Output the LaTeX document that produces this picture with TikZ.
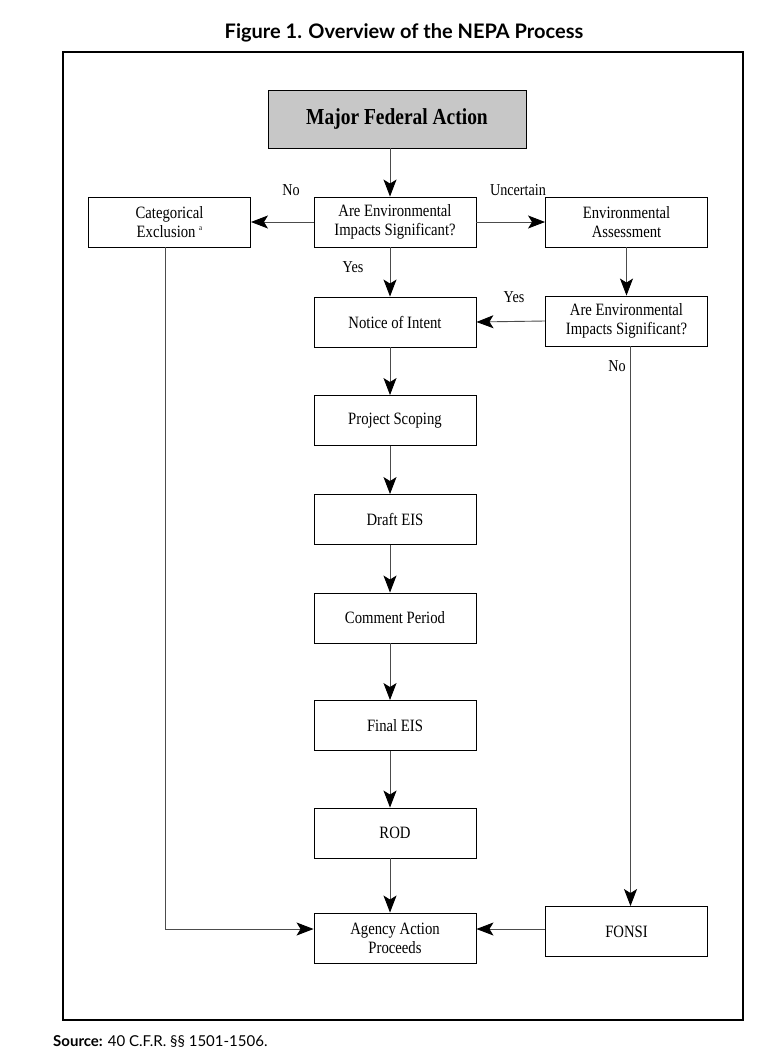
\documentclass[tikz,border=0pt]{standalone}
\usepackage{fontspec}
\setmainfont{Liberation Serif}
\newfontfamily\boxfont[FakeStretch=0.85]{Liberation Serif}
\newfontfamily\titlefont{Lato}
\usetikzlibrary{arrows.meta}
\begin{document}
\begin{tikzpicture}[x=1pt,y=-1pt,
  box/.style={draw=black,line width=0.9pt,minimum width=162pt,minimum height=50pt,inner sep=2pt,align=center,font=\boxfont\fontsize{17.3}{19}\selectfont},
  arr/.style={draw=black!70,line width=0.9pt,-{Stealth[length=17pt,width=13pt,inset=4pt,fill=black,color=black]}},
  lbl/.style={font=\boxfont\fontsize{16.7}{18}\selectfont,inner sep=0pt}]
\useasboundingbox (0,0) rectangle (766,1054);
\fill[white] (0,0) rectangle (766,1054);
\node[font=\titlefont\bfseries\fontsize{20}{22}\selectfont,inner sep=0pt] (title) at (404,33) {Figure 1. Overview of the NEPA Process};
\draw[line width=2pt] (63,52) rectangle (743,1020);
\node[anchor=west,inner sep=0pt,font=\titlefont\fontsize{15}{17}\selectfont] (src) at (53,1041) {\textbf{Source:} 40 C.F.R. §§ 1501-1506.};

\node[box,fill=black!22,minimum width=258pt,minimum height=58pt,font=\boxfont\bfseries\fontsize{22.9}{24}\selectfont] (major) at (397,119) {Major Federal Action};
\node[box] (cat) at (169.5,222) {Categorical\\Exclusion \raisebox{0.4em}{\fontsize{8}{9}\selectfont a}};
\node[box] (q1) at (395,222) {Are Environmental\\Impacts Significant?};
\node[box] (ea) at (626.5,222) {Environmental\\Assessment};
\node[box] (noi) at (395,322) {Notice of Intent};
\node[box] (q2) at (626.5,321) {Are Environmental\\Impacts Significant?};
\node[box] (scope) at (395,420.5) {Project Scoping};
\node[box] (deis) at (395,519.5) {Draft EIS};
\node[box] (comm) at (395,618) {Comment Period};
\node[box] (feis) at (395,725.5) {Final EIS};
\node[box] (rod) at (395,833) {ROD};
\node[box] (agency) at (395,938) {Agency Action\\Proceeds};
\node[box] (fonsi) at (626.5,931.5) {FONSI};

\node[lbl] (lno) at (291,190) {No};
\node[lbl] (lunc) at (518,190) {Uncertain};
\node[lbl] (lyes1) at (353,267) {Yes};
\node[lbl] (lyes2) at (514,297) {Yes};
\node[lbl] (lno2) at (617,366) {No};

\draw[arr] ([xshift=-7pt]major.south) -- ([xshift=-5pt]q1.north);
\draw[arr] (q1.west) -- (cat.east);
\draw[arr] (q1.east) -- (ea.west);
\draw[arr] ([xshift=-5pt]q1.south) -- ([xshift=-5pt]noi.north);
\draw[arr] (ea.south) -- (q2.north);
\draw[arr] (q2.west) -- (noi.east);
\draw[arr] ([xshift=4pt]q2.south) -- ([xshift=4pt]fonsi.north);
\draw[arr] ([xshift=-5pt]noi.south) -- ([xshift=-5pt]scope.north);
\draw[arr] ([xshift=-5pt]scope.south) -- ([xshift=-5pt]deis.north);
\draw[arr] ([xshift=-5pt]deis.south) -- ([xshift=-5pt]comm.north);
\draw[arr] ([xshift=-5pt]comm.south) -- ([xshift=-5pt]feis.north);
\draw[arr] ([xshift=-5pt]feis.south) -- ([xshift=-5pt]rod.north);
\draw[arr] ([xshift=-5pt]rod.south) -- ([xshift=-5pt]agency.north);
\draw[arr] ([xshift=-4pt]cat.south) |- ([yshift=9pt]agency.west);
\draw[arr] ([yshift=2.5pt]fonsi.west) -- ([yshift=9pt]agency.east);
\end{tikzpicture}
\end{document}
